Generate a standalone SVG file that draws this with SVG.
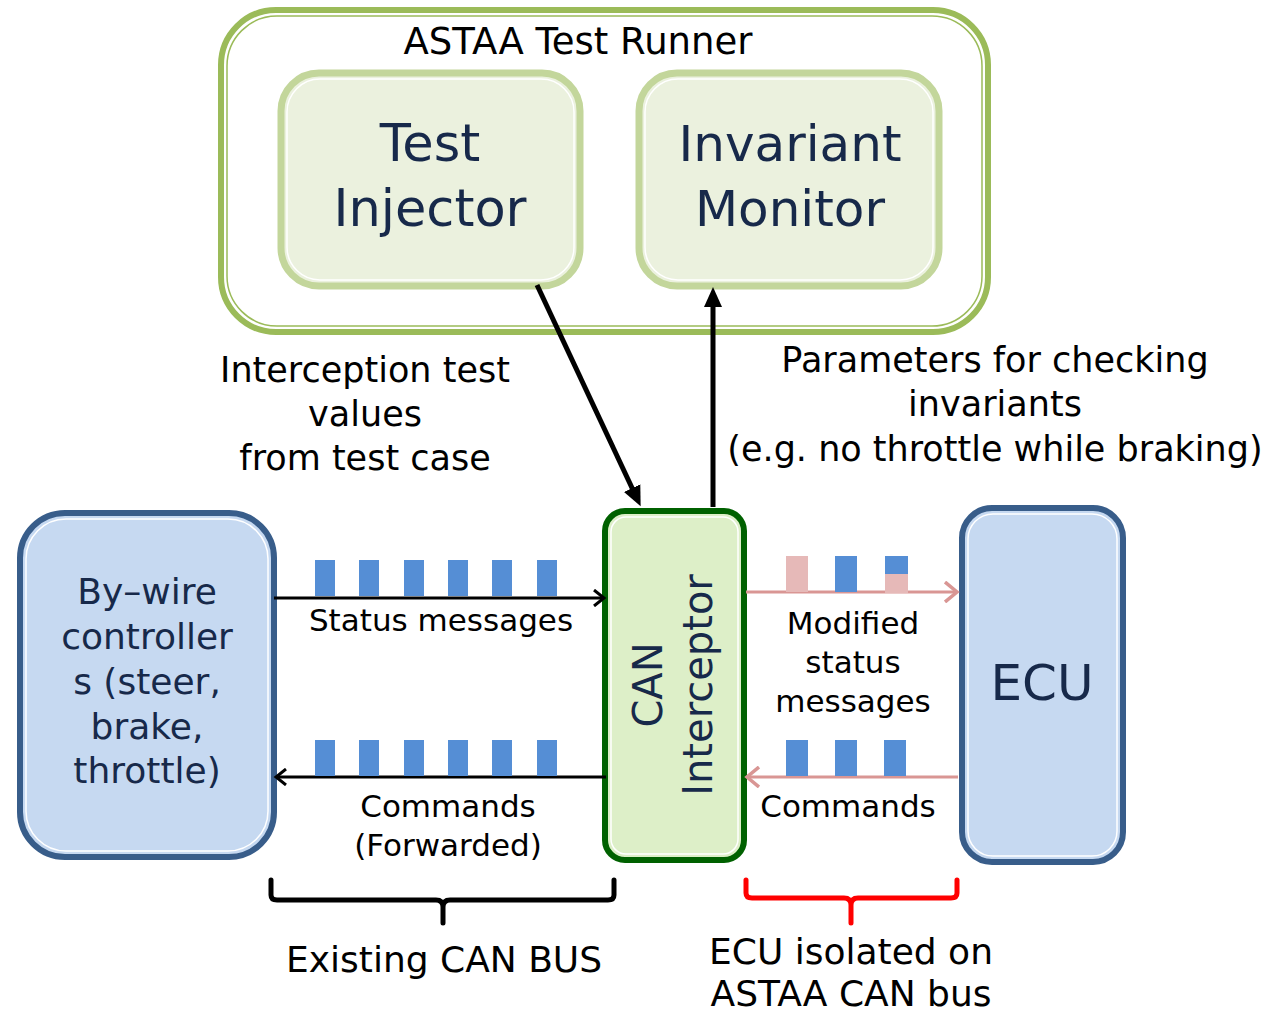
<svg xmlns="http://www.w3.org/2000/svg" width="1287" height="1013" viewBox="0 0 1287 1013">
<style>
text{font-family:"DejaVu Sans","Liberation Sans",sans-serif;text-anchor:middle}
.lbl{fill:#000;font-size:35px}
.sm{font-size:31px}
.nd{fill:#17294a}
.inner{fill:none;stroke:#fff;stroke-width:1.5}
.blue{fill:#558ED5}
.pink{fill:#E6B9B8}
</style>
<defs>
<marker id="open" markerWidth="14" markerHeight="18" refX="11" refY="9" orient="auto" markerUnits="userSpaceOnUse">
<path d="M1,1 L11,9 L1,17" fill="none" stroke="#000" stroke-width="3"/>
</marker>
<marker id="openp" markerWidth="16" markerHeight="22" refX="13" refY="11" orient="auto" markerUnits="userSpaceOnUse">
<path d="M1,1 L13,11 L1,21" fill="none" stroke="#D99694" stroke-width="3.5"/>
</marker>
<marker id="solid" markerWidth="22" markerHeight="22" refX="2" refY="11" orient="auto" markerUnits="userSpaceOnUse">
<path d="M0,2 L20,11 L0,20 Z" fill="#000"/>
</marker>
</defs>

<g id="runner">
<rect x="221" y="10" width="767" height="322" rx="55" fill="#fff" stroke="#9BBB59" stroke-width="6"/>
<rect x="227" y="16" width="755" height="310" rx="50" fill="none" stroke="#9BBB59" stroke-width="1.5"/>
<text x="578" y="54" class="lbl" style="font-size:37px">ASTAA Test Runner</text>
</g>

<g id="test-injector">
<rect x="281" y="73" width="299" height="213" rx="38" fill="#EBF1DE" stroke="#C3D69B" stroke-width="7"/>
<rect x="287" y="79" width="287" height="201" rx="33" class="inner"/>
<text x="430" y="161" class="nd" font-size="51">Test</text>
<text x="430" y="226" class="nd" font-size="51">Injector</text>
</g>

<g id="invariant-monitor">
<rect x="639" y="73" width="300" height="213" rx="38" fill="#EBF1DE" stroke="#C3D69B" stroke-width="7"/>
<rect x="645" y="79" width="288" height="201" rx="33" class="inner"/>
<text x="790" y="161" class="nd" font-size="50">Invariant</text>
<text x="790" y="226" class="nd" font-size="50">Monitor</text>
</g>

<g id="bywire">
<rect x="20" y="513" width="254" height="344" rx="45" fill="#C6D9F1" stroke="#385D8A" stroke-width="6"/>
<rect x="26" y="519" width="242" height="332" rx="40" class="inner"/>
<text x="147" y="604" class="nd" font-size="36">By–wire</text>
<text x="147" y="649" class="nd" font-size="36">controller</text>
<text x="147" y="694" class="nd" font-size="36">s (steer,</text>
<text x="147" y="739" class="nd" font-size="36">brake,</text>
<text x="147" y="783" class="nd" font-size="36">throttle)</text>
</g>

<g id="can-interceptor">
<rect x="605" y="511" width="139" height="349" rx="20" fill="#DDEFC8" stroke="#006100" stroke-width="6"/>
<rect x="611" y="517" width="127" height="337" rx="15" class="inner"/>
<text transform="translate(662,685) rotate(-90)" class="nd" font-size="40">CAN</text>
<text transform="translate(712,685) rotate(-90)" class="nd" font-size="40">Interceptor</text>
</g>

<g id="ecu">
<rect x="962" y="508" width="161" height="354" rx="30" fill="#C6D9F1" stroke="#385D8A" stroke-width="6"/>
<rect x="968" y="514" width="149" height="342" rx="25" class="inner"/>
<text x="1042" y="700" class="nd" font-size="50">ECU</text>
</g>

<g id="connectors">
<line x1="537" y1="285" x2="633" y2="490" stroke="#000" stroke-width="5" marker-end="url(#solid)"/>
<line x1="713" y1="507" x2="713" y2="305" stroke="#000" stroke-width="5" marker-end="url(#solid)"/>
<line x1="274" y1="598" x2="604" y2="598" stroke="#000" stroke-width="3" marker-end="url(#open)"/>
<line x1="606" y1="777" x2="276" y2="777" stroke="#000" stroke-width="3" marker-end="url(#open)"/>
<line x1="746" y1="592" x2="957" y2="592" stroke="#D99694" stroke-width="3" marker-end="url(#openp)"/>
<line x1="958" y1="777" x2="747" y2="777" stroke="#D99694" stroke-width="3" marker-end="url(#openp)"/>
</g>

<g id="messages">
<rect class="blue" x="315" y="560" width="20" height="36"/>
<rect class="blue" x="359" y="560" width="20" height="36"/>
<rect class="blue" x="404" y="560" width="20" height="36"/>
<rect class="blue" x="448" y="560" width="20" height="36"/>
<rect class="blue" x="492" y="560" width="20" height="36"/>
<rect class="blue" x="537" y="560" width="20" height="36"/>
<rect class="blue" x="315" y="740" width="20" height="36"/>
<rect class="blue" x="359" y="740" width="20" height="36"/>
<rect class="blue" x="404" y="740" width="20" height="36"/>
<rect class="blue" x="448" y="740" width="20" height="36"/>
<rect class="blue" x="492" y="740" width="20" height="36"/>
<rect class="blue" x="537" y="740" width="20" height="36"/>
<rect class="pink" x="786" y="556" width="22" height="36"/>
<rect class="blue" x="835" y="556" width="22" height="36"/>
<rect class="blue" x="885" y="556" width="23" height="18"/>
<rect class="pink" x="885" y="574" width="23" height="19"/>
<rect class="blue" x="786" y="740" width="22" height="36"/>
<rect class="blue" x="835" y="740" width="22" height="36"/>
<rect class="blue" x="884" y="740" width="22" height="36"/>
</g>

<g id="labels">
<text x="365" y="382" class="lbl">Interception test</text>
<text x="365" y="426" class="lbl">values</text>
<text x="365" y="470" class="lbl">from test case</text>
<text x="995" y="372" class="lbl">Parameters for checking</text>
<text x="995" y="416" class="lbl">invariants</text>
<text x="995" y="461" class="lbl">(e.g. no throttle while braking)</text>
<text x="441" y="631" class="lbl sm">Status messages</text>
<text x="448" y="817" class="lbl sm">Commands</text>
<text x="448" y="856" class="lbl sm">(Forwarded)</text>
<text x="853" y="634" class="lbl sm">Modified</text>
<text x="853" y="673" class="lbl sm">status</text>
<text x="853" y="712" class="lbl sm">messages</text>
<text x="848" y="817" class="lbl sm">Commands</text>
<text x="444" y="972" class="lbl" style="font-size:36px">Existing CAN BUS</text>
<text x="851" y="964" class="lbl" style="font-size:36px">ECU isolated on</text>
<text x="851" y="1006" class="lbl" style="font-size:36px">ASTAA CAN bus</text>
</g>

<g id="braces" fill="none" stroke-width="5" stroke-linecap="round" stroke-linejoin="round">
<path d="M271,880 V895 Q271,900 277,900 H436 Q443,900 443,907 V923 M443,907 Q443,900 450,900 H608 Q614,900 614,895 V880" stroke="#000"/>
<path d="M746,880 V893 Q746,898 752,898 H844 Q851,898 851,905 V923 M851,905 Q851,898 858,898 H951 Q957,898 957,893 V880" stroke="#FF0000"/>
</g>
</svg>
